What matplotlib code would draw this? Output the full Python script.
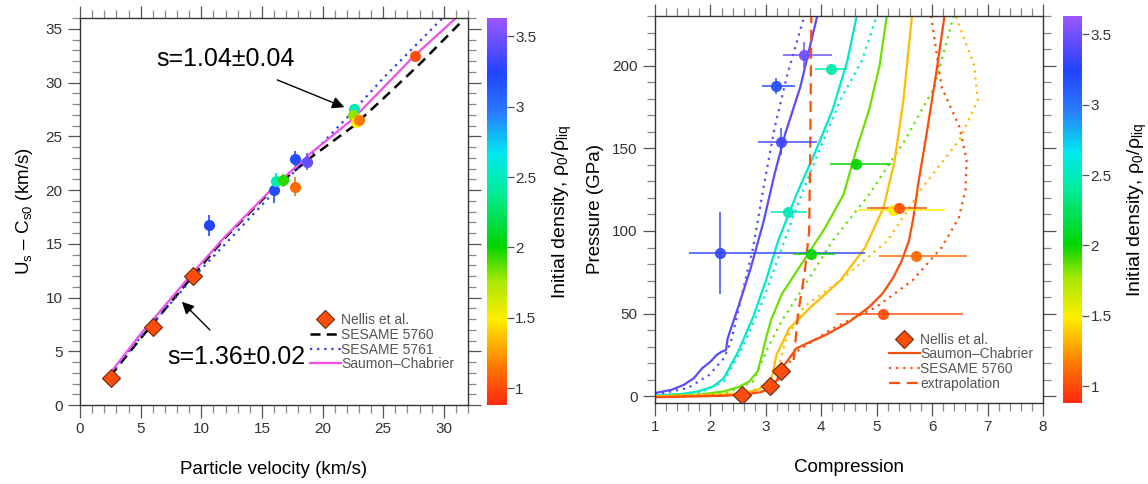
import numpy as np
import matplotlib
matplotlib.use('Agg')
import matplotlib.pyplot as plt
from matplotlib.colors import LinearSegmentedColormap, Normalize
from matplotlib.ticker import MultipleLocator, FormatStrFormatter

plt.rcParams['font.family'] = ['Liberation Sans', 'DejaVu Sans']
plt.rcParams['mathtext.fontset'] = 'custom'
plt.rcParams['mathtext.rm'] = 'Liberation Sans'
plt.rcParams['mathtext.it'] = 'Liberation Sans:italic'

# --- left panel: Us - Cs0 vs particle velocity ---
nellis_up = [2.53, 6.0, 9.35]
nellis_us = [2.55, 7.3, 12.0]

pts_up = [10.66, 16.0, 16.2, 16.75, 17.7, 17.7, 18.7, 22.6, 22.5, 22.75, 23.0, 27.6]
pts_us = [16.7, 20.0, 20.8, 20.9, 20.3, 22.9, 22.65, 27.5, 27.0, 26.35, 26.5, 32.45]
pts_us_err = [1.0, 1.2, 0.8, 0.6, 0.9, 0.7, 0.8, 0.5, 0.5, 0.6, 0.5, 0.4]
pts_rho = [3.25, 3.2, 2.45, 1.95, 1.1, 3.2, 3.45, 2.5, 1.8, 1.5, 1.15, 1.0]

ses5760_up = [2.5, 5.0, 9.3, 12.0, 16.0, 19.0, 22.5, 25.0, 28.0, 31.5]
ses5760_us = [2.7, 6.2, 12.0, 15.6, 20.2, 23.0, 25.9, 28.5, 31.7, 35.7]
ses5761_up = [2.5, 5.0, 9.3, 12.0, 16.0, 19.0, 22.5, 25.0, 29.9]
ses5761_us = [2.9, 6.3, 11.8, 15.0, 19.8, 23.2, 27.3, 30.4, 36.0]
sc_up = [2.5, 5.0, 9.3, 12.0, 16.0, 19.0, 22.5, 27.5, 31.0]
sc_us = [3.0, 6.6, 12.3, 15.7, 20.3, 23.4, 26.6, 32.4, 36.0]

# --- right panel: pressure vs compression ---
nel_comp = [2.56, 3.08, 3.28]
nel_p = [1.0, 6.5, 15.6]

rp_comp = [2.18, 3.18, 3.28, 3.68, 3.39, 4.17, 4.63, 3.81, 5.30, 5.40, 5.71, 5.11]
rp_p = [86.6, 187.7, 154.0, 206.5, 111.3, 197.8, 140.7, 86.0, 112.8, 113.8, 85.0, 50.0]
rp_xlo = [0.56, 0.25, 0.42, 0.38, 0.30, 0.28, 0.48, 0.32, 0.64, 0.57, 0.67, 0.84]
rp_xhi = [2.61, 0.34, 0.65, 0.51, 0.36, 0.30, 0.62, 0.43, 0.93, 0.51, 0.91, 1.44]
rp_perr = [25, 5, 8, 8, 3, 3, 3, 3, 2, 3, 2, 2]
rp_rho = [3.3, 3.2, 3.35, 3.5, 2.5, 2.45, 2.0, 2.0, 1.5, 1.0, 1.1, 1.0]

# Saumon-Chabrier (solid) and SESAME 5760 (dotted) for each initial density
curve_rho = [3.42, 2.55, 1.85, 1.35, 1.0]
sc_comp = [
    [1.0, 1.3, 1.52, 1.7, 1.85, 2.0, 2.11, 2.2, 2.28, 2.31, 2.38, 2.5, 2.73, 2.96, 3.16, 3.35, 3.62, 3.94],
    [1.0, 1.5, 1.78, 2.05, 2.24, 2.5, 2.77, 3.0, 3.22, 3.55, 3.88, 4.2, 4.47, 4.65],
    [1.0, 1.8, 2.24, 2.5, 2.7, 2.85, 2.93, 3.0, 3.09, 3.29, 3.68, 4.07, 4.4, 4.63, 4.86, 5.05, 5.19],
    [1.0, 2.2, 2.57, 2.85, 3.03, 3.12, 3.19, 3.42, 3.81, 4.34, 4.79, 5.12, 5.32, 5.48, 5.64],
    [1.0, 2.2, 2.57, 2.9, 3.09, 3.2, 3.29, 3.55, 3.8, 4.07, 4.5, 4.86, 5.1, 5.3, 5.45, 5.58, 5.66, 5.74, 5.9, 6.07, 6.23],
]
sc_p = [
    [2, 4, 7, 11, 17, 21, 25, 27, 28, 35, 42, 54, 78, 106, 135, 159, 187, 232],
    [0.5, 1.5, 3, 6, 11, 27, 48, 70, 94, 122, 147, 173, 203, 232],
    [0, 1, 3, 5.5, 9, 15, 25, 35, 46, 62, 82, 102, 122, 149, 173, 200, 232],
    [0, 1, 2, 4, 7, 13, 25, 41, 54, 70, 90, 114, 142, 179, 232],
    [-0.5, 0.3, 1, 2.5, 5, 10, 17, 29, 33, 37, 45, 54, 62, 72, 82, 94, 108, 127, 159, 195, 232],
]
ses_comp = [
    [1.0, 1.59, 1.98, 2.24, 2.37, 2.57, 2.77, 2.96, 3.16, 3.39, 3.71],
    [1.0, 1.8, 2.24, 2.57, 2.9, 3.16, 3.55, 3.88, 4.34, 4.73, 5.02],
    [1.0, 2.3, 2.77, 3.03, 3.29, 3.68, 4.2, 4.86, 5.51, 6.04, 6.4],
    [1.0, 2.6, 3.16, 3.35, 3.68, 4.34, 5.19, 5.84, 6.49, 6.82, 6.76, 6.4],
    [1.0, 2.6, 3.1, 3.55, 4.2, 4.99, 5.64, 6.17, 6.48, 6.6, 6.62, 6.49, 6.17, 5.97],
]
ses_p = [
    [1, 5, 13, 23, 33, 62, 90, 127, 163, 195, 232],
    [0.3, 2, 9, 29, 54, 78, 114, 142, 179, 203, 232],
    [0, 2, 9, 29, 46, 66, 94, 122, 155, 187, 232],
    [0, 1.5, 9, 33, 54, 70, 94, 127, 155, 179, 200, 232],
    [-0.5, 1, 4, 27, 41, 54, 70, 90, 108, 125, 143, 163, 187, 232],
]
extrap_comp = [3.5, 3.58, 3.7, 3.78, 3.8, 3.82]
extrap_p = [22, 50, 75, 100, 150, 232]

cb_ticks = [1, 1.5, 2, 2.5, 3, 3.5]

cmap = LinearSegmentedColormap.from_list('dens', [
    (0.00, '#ff2a10'), (0.10, '#ff7a00'), (0.22, '#ffee00'), (0.32, '#a8e800'),
    (0.41, '#00d400'), (0.55, '#00ec9a'), (0.65, '#00e8ee'), (0.76, '#2a78ff'),
    (0.86, '#2244ff'), (1.00, '#9a55ff')])
norm = Normalize(0.88, 3.63)

fig = plt.figure(figsize=(11.48, 4.84), dpi=100)
ax1 = fig.add_axes([0.0697, 0.1632, 0.338, 0.7996])
cax1 = fig.add_axes([0.4242, 0.1632, 0.0174, 0.7996])
ax2 = fig.add_axes([0.5706, 0.1674, 0.338, 0.7995])
cax2 = fig.add_axes([0.926, 0.1674, 0.0166, 0.7995])

orange = '#ff4e0a'

# left panel
ax1.plot(ses5760_up, ses5760_us, color='black', ls=(0, (4, 2.5)), lw=1.8, label='SESAME 5760')
ax1.plot(ses5761_up, ses5761_us, color='#2a3cff', ls=(0, (1, 2.2)), lw=1.6, label='SESAME 5761')
ax1.plot(sc_up, sc_us, color='#f050e8', lw=1.6, label='Saumon\u2013Chabrier')
for x, y, e, r in zip(pts_up, pts_us, pts_us_err, pts_rho):
    c = cmap(norm(r))
    ax1.errorbar(x, y, yerr=e, fmt='o', color=c, ms=7, elinewidth=1.2, ecolor=c)
ax1.plot(nellis_up, nellis_us, 'D', color=orange, mec='#6a2a10', mew=0.8, ms=9, ls='none',
         label='Nellis et al.')

h, l = ax1.get_legend_handles_labels()
order = [3, 0, 1, 2]
leg = ax1.legend([h[i] for i in order], [l[i] for i in order], loc='upper left',
                 bbox_to_anchor=(0.575, 0.255), frameon=False, fontsize=10,
                 handlelength=2.2, handletextpad=0.05, labelspacing=0.05, borderpad=0)
for t in leg.get_texts():
    t.set_color('#555555')

ax1.annotate('s=1.04\u00b10.04', xy=(21.8, 27.7), xytext=(12.0, 32.2), fontsize=18,
             ha='center', va='center',
             arrowprops=dict(arrowstyle='-|>', color='black', lw=1, mutation_scale=18,
                             shrinkA=12, shrinkB=0))
ax1.annotate('s=1.36\u00b10.02', xy=(8.4, 9.6), xytext=(12.9, 4.5), fontsize=18,
             ha='center', va='center',
             arrowprops=dict(arrowstyle='-|>', color='black', lw=1, mutation_scale=18,
                             shrinkA=12, shrinkB=0))

ax1.set_xlim(0, 32)
ax1.set_ylim(0, 36)
ax1.xaxis.set_major_locator(MultipleLocator(5))
ax1.xaxis.set_minor_locator(MultipleLocator(1))
ax1.yaxis.set_major_locator(MultipleLocator(5))
ax1.yaxis.set_minor_locator(MultipleLocator(1))
ax1.set_xlabel('Particle velocity (km/s)', fontsize=13.5, labelpad=18)
ax1.set_ylabel('U$_\\mathregular{s}$ \u2013 C$_\\mathregular{s0}$ (km/s)', fontsize=13.5, labelpad=8)

# right panel
for xs, ys, xd, yd, r in zip(sc_comp, sc_p, ses_comp, ses_p, curve_rho):
    c = cmap(norm(r))
    ax2.plot(xd, yd, color=c, ls=(0, (1, 2.2)), lw=1.6)
    ax2.plot(xs, ys, color=c, lw=1.6)
ax2.plot(extrap_comp, extrap_p, color=orange, ls=(0, (5, 3)), lw=1.6)
for x, y, xl, xh, e, r in zip(rp_comp, rp_p, rp_xlo, rp_xhi, rp_perr, rp_rho):
    c = cmap(norm(r))
    ax2.errorbar(x, y, xerr=[[xl], [xh]], yerr=e, fmt='o', color=c, ms=7,
                 elinewidth=1.2, ecolor=c, alpha=0.9)
ax2.plot(nel_comp, nel_p, 'D', color=orange, mec='#6a2a10', mew=0.8, ms=9, ls='none')

hl = [plt.Line2D([], [], marker='D', color=orange, mec='#6a2a10', mew=0.8, ms=9, ls='none'),
      plt.Line2D([], [], color=orange, lw=1.6),
      plt.Line2D([], [], color=orange, ls=(0, (1, 2.2)), lw=1.6),
      plt.Line2D([], [], color=orange, ls=(0, (5, 3)), lw=1.6)]
leg2 = ax2.legend(hl, ['Nellis et al.', 'Saumon\u2013Chabrier', 'SESAME 5760', 'extrapolation'],
                  loc='upper left', bbox_to_anchor=(0.585, 0.2), frameon=False, fontsize=10,
                  handlelength=2.2, handletextpad=0.05, labelspacing=0.05, borderpad=0)
for t in leg2.get_texts():
    t.set_color('#555555')

ax2.set_xlim(1, 8)
ax2.set_ylim(-4, 230)
ax2.xaxis.set_major_locator(MultipleLocator(1))
ax2.xaxis.set_minor_locator(MultipleLocator(0.2))
ax2.yaxis.set_major_locator(MultipleLocator(50))
ax2.yaxis.set_minor_locator(MultipleLocator(10))
ax2.set_xlabel('Compression', fontsize=13.5, labelpad=18)
ax2.set_ylabel('Pressure (GPa)', fontsize=13.5, labelpad=6)

for ax in (ax1, ax2):
    ax.tick_params(which='both', direction='out', top=True, right=True, color='#555555',
                   labelcolor='#333333', labelsize=11, width=0.9)
    ax.tick_params(which='major', length=9)
    ax.tick_params(which='minor', length=6, color='#888888')
    for s in ax.spines.values():
        s.set_color('#333333')
        s.set_linewidth(1.0)

for cax in (cax1, cax2):
    cb = fig.colorbar(plt.cm.ScalarMappable(norm=norm, cmap=cmap), cax=cax, ticks=cb_ticks,
                      format=FormatStrFormatter('%g'))
    cb.outline.set_visible(False)
    cb.ax.tick_params(length=5, width=0.9, color='#555555', labelcolor='#333333', labelsize=11, pad=1)
    cb.set_label(r'Initial density, $\mathregular{\rho_0/\rho_{liq}}$', fontsize=14, labelpad=10)

fig.savefig('out.png', dpi=100)
